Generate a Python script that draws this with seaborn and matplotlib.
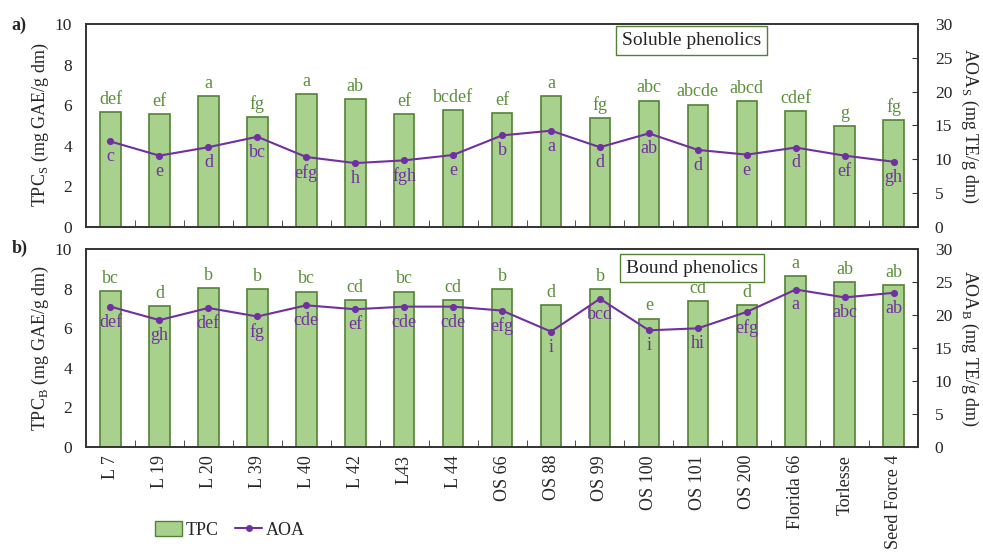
import matplotlib
matplotlib.use("Agg")
import matplotlib.pyplot as plt
from matplotlib.patches import Patch
from matplotlib.lines import Line2D
import seaborn as sns
import numpy as np

# cultivars on the x axis
cultivars = ["L 7", "L 19", "L 20", "L 39", "L 40", "L 42", "L43", "L 44", "OS 66",
             "OS 88", "OS 99", "OS 100", "OS 101", "OS 200", "Florida 66", "Torlesse",
             "Seed Force 4"]

# soluble phenolics (panel a)
tpc_s = [5.66, 5.56, 6.43, 5.41, 6.53, 6.28, 5.56, 5.77, 5.61, 6.45, 5.35, 6.22, 6.02,
         6.20, 5.69, 4.98, 5.25]
aoa_s = [12.6, 10.5, 11.75, 13.3, 10.3, 9.4, 9.8, 10.6, 13.5, 14.2, 11.75, 13.8, 11.35,
         10.65, 11.7, 10.5, 9.6]
tpc_s_let = ["def", "ef", "a", "fg", "a", "ab", "ef", "bcdef", "ef", "a", "fg", "abc",
             "abcde", "abcd", "cdef", "g", "fg"]
aoa_s_let = ["c", "e", "d", "bc", "efg", "h", "fgh", "e", "b", "a", "d", "ab", "d", "e",
             "d", "ef", "gh"]

# bound phenolics (panel b)
tpc_b = [7.89, 7.11, 8.03, 8.01, 7.86, 7.42, 7.86, 7.42, 8.01, 7.18, 8.01, 6.49, 7.37,
         7.18, 8.65, 8.35, 8.20]
aoa_b = [21.3, 19.25, 21.1, 19.8, 21.5, 20.9, 21.3, 21.3, 20.7, 17.5, 22.5, 17.7, 18.0,
         20.5, 23.9, 22.7, 23.4]
tpc_b_let = ["bc", "d", "b", "b", "bc", "cd", "bc", "cd", "b", "d", "b", "e", "cd", "d",
             "a", "ab", "ab"]
aoa_b_let = ["def", "gh", "def", "fg", "cde", "ef", "cde", "cde", "efg", "i", "bcd", "i",
             "hi", "efg", "a", "abc", "ab"]

GREEN_FILL = "#a9d18e"
GREEN_EDGE = "#548235"
GREEN_TXT = "#5b8f3a"
PURPLE = "#7030a0"

sns.set_style("ticks")
plt.rcParams["font.family"] = ["Liberation Serif", "DejaVu Serif"]
plt.rcParams["mathtext.fontset"] = "custom"
plt.rcParams["mathtext.rm"] = "Liberation Serif"

fig = plt.figure(figsize=(9.83, 5.58), dpi=100)
ax_a = fig.add_axes([0.0875, 0.594, 0.8465, 0.363])
ax_b = fig.add_axes([0.0875, 0.1995, 0.8465, 0.3535])


def panel(ax, tpc, aoa, tpc_let, aoa_let, sub, title, title_y, show_x):
    sns.barplot(x=cultivars, y=tpc, color=GREEN_FILL, edgecolor=GREEN_EDGE,
                linewidth=1.2, width=0.42, saturation=1, ax=ax)
    ax.set_ylim(0, 10)
    ax.set_yticks(np.arange(0, 11, 2))
    ax.set_ylabel(r"TPC$_\mathregular{%s}$ (mg GAE/g dm)" % sub, fontsize=13,
                  labelpad=3)
    for i, (v, t) in enumerate(zip(tpc, tpc_let)):
        ax.annotate(t, (i, v), xytext=(0, 3), textcoords="offset points",
                    ha="center", va="bottom", color=GREEN_TXT, fontsize=13)

    ax2 = ax.twinx()
    sns.pointplot(x=cultivars, y=aoa, color=PURPLE, markers="o", markersize=4,
                  linewidth=1.5, errorbar=None, ax=ax2)
    ax2.set_ylim(0, 30)
    ax2.set_yticks(np.arange(0, 31, 5))
    ax2.set_ylabel(r"AOA$_\mathregular{%s}$ (mg TE/g dm)" % sub, fontsize=13,
                   rotation=270, labelpad=20)
    for i, (v, t) in enumerate(zip(aoa, aoa_let)):
        ax2.annotate(t, (i, v), xytext=(0, -5), textcoords="offset points",
                     ha="center", va="top", color=PURPLE, fontsize=13)

    ax.set_xlim(-0.5, len(cultivars) - 0.5)
    ax.set_xticks(range(len(cultivars)))
    ax.set_xticks(np.arange(0.5, len(cultivars) - 1, 1), minor=True)
    if show_x:
        ax.set_xticklabels(cultivars, rotation=90, fontsize=13)
    else:
        ax.set_xticklabels([])
    ax.tick_params(axis="x", which="major", length=0, pad=6)
    ax.tick_params(axis="x", which="minor", direction="in", length=5, color="#333333")
    ax.tick_params(axis="y", length=0, labelsize=12.5, pad=10)
    ax2.tick_params(axis="y", direction="in", length=4, labelsize=12.5, pad=12,
                    color="#333333")
    for a in (ax, ax2):
        for s in a.spines.values():
            s.set_visible(True)
            s.set_color("#333333")
            s.set_linewidth(1.2)

    ax.text(0.728, title_y, title, transform=ax.transAxes, ha="center", va="center",
            fontsize=14, zorder=5,
            bbox=dict(boxstyle="square,pad=0.3", facecolor="white",
                      edgecolor=GREEN_EDGE, linewidth=1.0))
    return ax2


panel(ax_a, tpc_s, aoa_s, tpc_s_let, aoa_s_let, "S", "Soluble phenolics", 0.92, False)
panel(ax_b, tpc_b, aoa_b, tpc_b_let, aoa_b_let, "B", "Bound phenolics", 0.905, True)

fig.text(0.012, 0.955, "a)", fontsize=13, fontweight="bold", va="center")
fig.text(0.012, 0.555, "b)", fontsize=13, fontweight="bold", va="center")

handles = [Patch(facecolor=GREEN_FILL, edgecolor=GREEN_EDGE, label="TPC"),
           Line2D([0], [0], color=PURPLE, marker="o", markersize=4, lw=1.5, label="AOA")]
fig.legend(handles=handles, loc="center left", bbox_to_anchor=(0.158, 0.05), ncol=2,
           frameon=False, fontsize=13, handlelength=1.5, handleheight=0.9,
           columnspacing=0.9, handletextpad=0.2, borderpad=0, borderaxespad=0)

fig.savefig("out.png", dpi=100)
